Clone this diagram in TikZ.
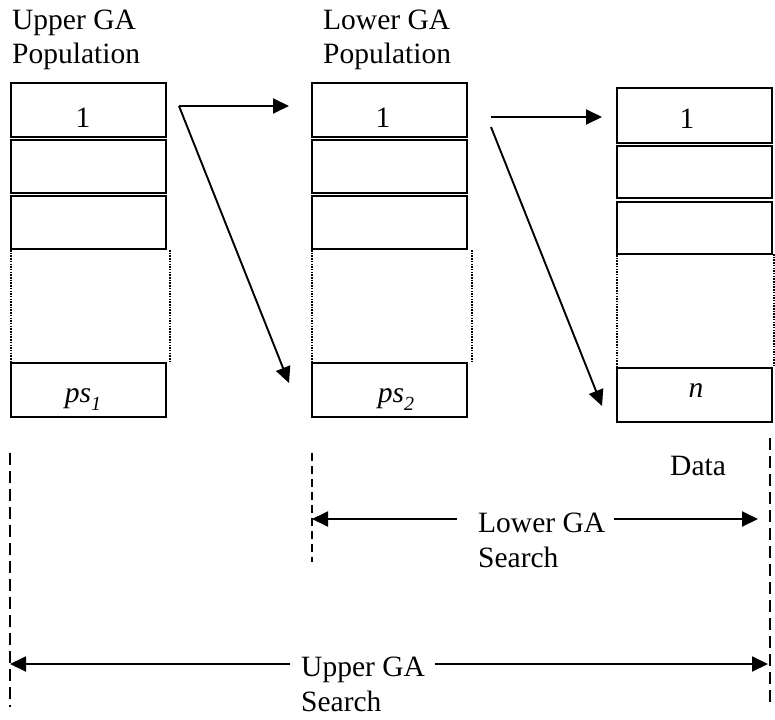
\documentclass[tikz,border=0pt]{standalone}
\usepackage{fontspec}
\setmainfont{Liberation Serif}
\usetikzlibrary{arrows.meta}

\newcommand{\subidx}[1]{\raisebox{-0.3em}{\fontsize{20}{20}\selectfont\itshape #1}}

\begin{document}
\begin{tikzpicture}[x=1pt,y=-1pt,
  cell/.style={draw, line width=2pt, minimum width=155pt, inner sep=0pt},
  gapline/.style={line width=2pt, dash pattern=on 1.5pt off 1.2pt},
  txt/.style={inner sep=0pt, font=\fontsize{29.5}{34.5}\selectfont, align=left},
  arr/.style={line width=1.9pt, -{Triangle[length=16pt,width=15pt]}},
  longdash/.style={line width=2pt, dash pattern=on 12pt off 6pt},
  shortdash/.style={line width=2pt, dash pattern=on 8pt off 5pt}
]
\useasboundingbox (0,0) rectangle (775,719);

% column headings (anchored on the last baseline)
\node[txt, anchor=base west] (hup) at (12,64) {Upper GA\\Population};
\node[txt, anchor=base west] (hlo) at (323,64) {Lower GA\\Population};
\node[txt, anchor=base west] (hdata) at (670,475) {Data};

% upper GA population
\node[cell, minimum height=54pt] (a1) at (88.5,110) {};
\node[cell, minimum height=53pt] (a2) at (88.5,166.5) {};
\node[cell, minimum height=53pt] (a3) at (88.5,222.5) {};
\node[cell, minimum height=54pt] (an) at (88.5,390) {};
\node[txt, anchor=base] (la1) at (83,128) {1};
\node[txt, anchor=base] (lan) at (83,402) {\textit{ps}\subidx{1}};
\draw[gapline] ([xshift=1pt]a3.south west) -- ([xshift=1pt]an.north west);
\draw[gapline] ([xshift=3pt]a3.south east) -- ([xshift=3pt]an.north east);

% lower GA population
\node[cell, minimum height=54pt] (b1) at (389.5,110) {};
\node[cell, minimum height=53pt] (b2) at (389.5,166.5) {};
\node[cell, minimum height=53pt] (b3) at (389.5,222.5) {};
\node[cell, minimum height=54pt] (bn) at (389.5,390) {};
\node[txt, anchor=base] (lb1) at (383,128) {1};
\node[txt, anchor=base] (lbn) at (396,402) {\textit{ps}\subidx{2}};
\draw[gapline] ([xshift=1pt]b3.south west) -- ([xshift=1pt]bn.north west);
\draw[gapline] ([xshift=4pt]b3.south east) -- ([xshift=4pt]bn.north east);

% data records
\node[cell, minimum height=55pt] (c1) at (694.5,115.5) {};
\node[cell, minimum height=52pt] (c2) at (694.5,172) {};
\node[cell, minimum height=52pt] (c3) at (694.5,228) {};
\node[cell, minimum height=54pt] (cn) at (694.5,395) {};
\node[txt, anchor=base] (lc1) at (687,129) {1};
\node[txt, anchor=base] (lcn) at (696,397) {\textit{n}};
\draw[gapline] ([xshift=1pt]c3.south west) -- ([xshift=1pt]cn.north west);
\draw[gapline] (774,254) -- (774,367);

% mapping arrows
\coordinate (s1) at (179,106);
\coordinate (t1a) at (289,106);
\coordinate (t1b) at (289,383);
\coordinate (s2a) at (491,117);
\coordinate (s2b) at (491,127);
\coordinate (t2a) at (602,117);
\coordinate (t2b) at (602,406);
\draw[arr] (s1) -- (t1a);
\draw[arr] (s1) -- (t1b);
\draw[arr] (s2a) -- (t2a);
\draw[arr] (s2b) -- (t2b);

% search-range guides
\coordinate (gl1) at (10,453);  \coordinate (gl2) at (10,707);
\coordinate (gm1) at (312,453); \coordinate (gm2) at (312,562);
\coordinate (gr1) at (770,438); \coordinate (gr2) at (770,705);
\draw[longdash] (gl1) -- (gl2);
\draw[shortdash] (gm1) -- (gm2);
\draw[longdash] (gr1) -- (gr2);

% lower GA search span
\node[txt, anchor=base west] (slo) at (478,567) {Lower GA\\Search};
\coordinate (slL) at (457,519);
\coordinate (slR) at (614,519);
\coordinate (slLt) at (312,519);
\coordinate (slRt) at (758,519);
\draw[arr] (slL) -- (slLt);
\draw[arr] (slR) -- (slRt);

% upper GA search span
\node[txt, anchor=base west] (sup) at (301,711) {Upper GA\\Search};
\coordinate (suL) at (290,664);
\coordinate (suR) at (435,664);
\coordinate (suLt) at (10,664);
\coordinate (suRt) at (768,664);
\draw[arr] (suL) -- (suLt);
\draw[arr] (suR) -- (suRt);
\end{tikzpicture}
\end{document}
